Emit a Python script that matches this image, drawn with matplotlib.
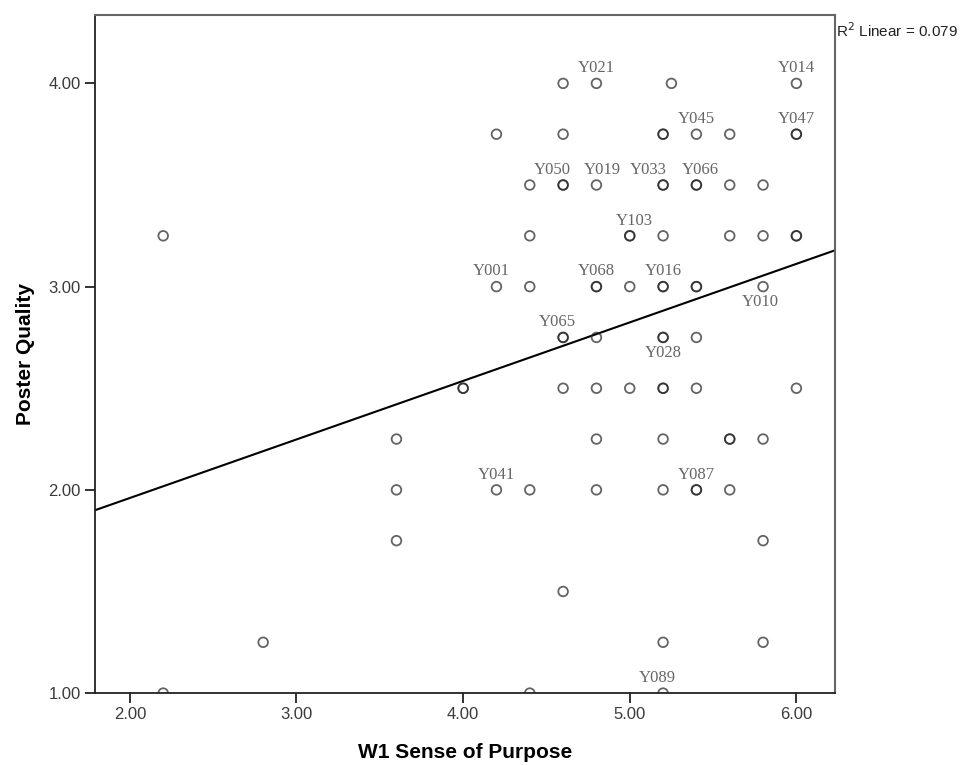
import matplotlib

matplotlib.use("Agg")
import matplotlib.pyplot as plt
import numpy as np

plt.rcParams["font.family"] = ["Liberation Sans", "DejaVu Sans"]

# ---- data ----
PURPOSE = [
    4.6, 4.8, 5.25, 6.0,
    4.2, 4.6, 5.2, 5.2, 5.4, 5.6, 6.0, 6.0,
    4.4, 4.6, 4.6, 4.8, 5.2, 5.2, 5.4, 5.4, 5.6, 5.8,
    2.2, 4.4, 5.0, 5.0, 5.2, 5.6, 5.8, 6.0, 6.0,
    4.2, 4.4, 4.8, 4.8, 5.0, 5.2, 5.2, 5.4, 5.4, 5.8,
    4.6, 4.6, 4.8, 5.2, 5.2, 5.4,
    4.0, 4.0, 4.6, 4.8, 5.0, 5.2, 5.2, 5.4, 6.0,
    3.6, 4.8, 5.2, 5.6, 5.6, 5.8,
    3.6, 4.2, 4.4, 4.8, 5.2, 5.4, 5.4, 5.6,
    3.6, 5.8,
    4.6,
    2.8, 5.2, 5.8,
    2.2, 4.4, 5.2,
]
QUALITY = (
    [4.00] * 4 + [3.75] * 8 + [3.50] * 10 + [3.25] * 9 + [3.00] * 10
    + [2.75] * 6 + [2.50] * 9 + [2.25] * 6 + [2.00] * 8 + [1.75] * 2
    + [1.50] * 1 + [1.25] * 3 + [1.00] * 3
)

LABEL_IDS = ["Y021", "Y014", "Y045", "Y047", "Y050", "Y019", "Y033", "Y066",
             "Y103", "Y001", "Y068", "Y016", "Y010", "Y065", "Y028", "Y041",
             "Y087", "Y089"]
LABEL_X = [4.8, 6.0, 5.4, 6.0, 4.6, 4.8, 5.2, 5.4,
           5.0, 4.2, 4.8, 5.2, 5.8, 4.6, 5.2, 4.2,
           5.4, 5.2]
LABEL_Y = [4.00, 4.00, 3.75, 3.75, 3.50, 3.50, 3.50, 3.50,
           3.25, 3.00, 3.00, 3.00, 3.00, 2.75, 2.75, 2.00,
           2.00, 1.00]

# fitted line
FIT_INTERCEPT = 1.384
FIT_SLOPE = 0.288
R2 = 0.079

XTICKS = [2.0, 3.0, 4.0, 5.0, 6.0]
YTICKS = [1.0, 2.0, 3.0, 4.0]

# label placement (offset in points, dx, dy)
LABEL_OFFSET = {"Y050": (-8, 11), "Y019": (4, 11), "Y033": (-11, 11),
                "Y066": (3, 11), "Y103": (3, 11), "Y001": (-4, 11),
                "Y065": (-4, 11), "Y089": (-4, 11), "Y010": (-2, -11),
                "Y028": (0, -11)}

fig = plt.figure(figsize=(9.68, 7.65), dpi=100)
ax = fig.add_axes([0.098, 0.094, 0.765, 0.886])

ax.set_xlim(1.79, 6.234)
ax.set_ylim(1.0, 4.335)

ax.scatter(PURPOSE, QUALITY, s=48, facecolors="none", edgecolors="#222222",
           linewidths=1.3, alpha=0.7, zorder=3)

xs = np.array(ax.get_xlim())
ax.plot(xs, FIT_INTERCEPT + FIT_SLOPE * xs, color="black", lw=1.5, zorder=2)

for lab, x, y in zip(LABEL_IDS, LABEL_X, LABEL_Y):
    dx, dy = LABEL_OFFSET.get(lab, (0, 11))
    ax.annotate(lab, (x, y), xytext=(dx, dy), textcoords="offset points",
                ha="center", va="center", fontsize=12, color="#666666",
                family="Liberation Serif", zorder=4)

ax.set_xticks(XTICKS)
ax.set_xticklabels([f"{t:.2f}" for t in XTICKS])
ax.set_yticks(YTICKS)
ax.set_yticklabels([f"{t:.2f}" for t in YTICKS])
ax.tick_params(axis="both", direction="out", length=7, width=1.3,
               labelsize=12, labelcolor="#3a3a3a", color="#222222", pad=3)

for side in ["left", "bottom"]:
    ax.spines[side].set_color("#222222")
    ax.spines[side].set_linewidth(1.3)
for side in ["top", "right"]:
    ax.spines[side].set_color("#666666")
    ax.spines[side].set_linewidth(1.5)

ax.set_xlabel("W1 Sense of Purpose", fontsize=15, fontweight="bold",
              labelpad=15)
ax.set_ylabel("Poster Quality", fontsize=15, fontweight="bold", labelpad=10)

fig.text(0.864, 0.96, f"R$^2$ Linear = {R2:.3f}", fontsize=11,
         color="#222222", va="center", ha="left")

fig.savefig("out.png", facecolor="white")
